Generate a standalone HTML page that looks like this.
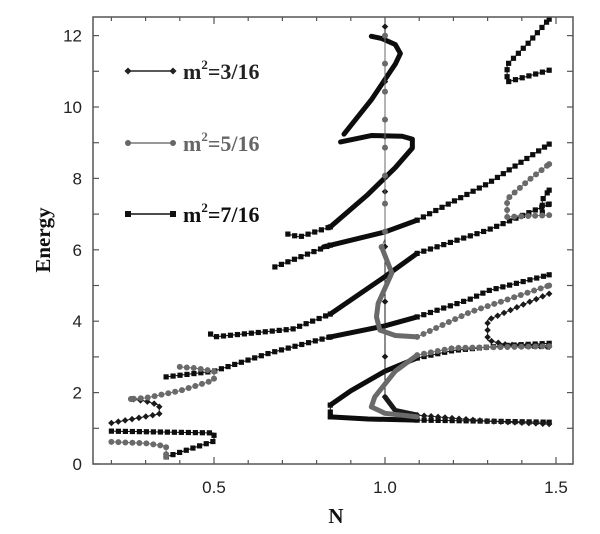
<!DOCTYPE html>
<html><head><meta charset="utf-8"><style>
html,body{margin:0;padding:0;background:#fff;}
svg{display:block;}
</style></head><body>
<svg id="chart" width="600" height="534" viewBox="0 0 600 534" xmlns="http://www.w3.org/2000/svg">
<g id="plot"></g>
<g id="axes"></g>
<g>
  <g>
    <line x1="128" y1="71" x2="173" y2="71" stroke="#222" stroke-width="1.5"/>
    <rect x="125.5" y="68.5" width="5" height="5" fill="#222" transform="rotate(45 128 71)"/>
    <rect x="170.5" y="68.5" width="5" height="5" fill="#222" transform="rotate(45 173 71)"/>
    <text x="183" y="79" font-family="Liberation Serif, serif" font-weight="bold" font-size="22" fill="#222">m<tspan dy="-10" font-size="13">2</tspan><tspan dy="10">=3/16</tspan></text>
  </g>
  <g>
    <line x1="128" y1="143" x2="173" y2="143" stroke="#777" stroke-width="1.5"/>
    <circle cx="128" cy="143" r="3" fill="#666"/>
    <circle cx="173" cy="143" r="3" fill="#666"/>
    <text x="183" y="151" font-family="Liberation Serif, serif" font-weight="bold" font-size="22" fill="#666">m<tspan dy="-10" font-size="13">2</tspan><tspan dy="10">=5/16</tspan></text>
  </g>
  <g>
    <line x1="128" y1="214" x2="173" y2="214" stroke="#111" stroke-width="1.5"/>
    <rect x="125" y="211" width="6" height="6" fill="#111"/>
    <rect x="170" y="211" width="6" height="6" fill="#111"/>
    <text x="183" y="222" font-family="Liberation Serif, serif" font-weight="bold" font-size="22" fill="#111">m<tspan dy="-10" font-size="13">2</tspan><tspan dy="10">=7/16</tspan></text>
  </g>
</g>
<text x="0" y="0" transform="translate(50 240) rotate(-90)" text-anchor="middle" font-family="Liberation Serif, serif" font-weight="bold" font-size="21" fill="#111">Energy</text>
<text x="336" y="523" text-anchor="middle" font-family="Liberation Serif, serif" font-weight="bold" font-size="21" fill="#111">N</text>
</svg>
<script>
// ---- data ----
const xTicks=[0.5,1.0,1.5];
const xTickLabels=["0.5","1.0","1.5"];
const yTicks=[0,2,4,6,8,10,12];
const yTickLabels=["0","2","4","6","8","10","12"];
// series: 0 = m2=3/16 (diamond), 1 = m2=5/16 (grey circle), 2 = m2=7/16 (square)
const curveSeries=[2,2,2,2,2,2,2,2,2,2,2,2,2,2,2,2,2,2,2,2,  0,0,0,0,0,  1,1,1,1,1,1,1,1];
const curveKind=["thin","thin","thick","thin","thin","thick","thin","thin","thick","thin","thin","thick","thick","thin","thin","thick","thin","thick","thin","thin",
 "thin","thin","thick","thin","thin",
 "thin","thin","thin","thick","thin","thick","thin","thin"];
const curvesN=[
 [0.2,0.5,0.5,0.36],
 [0.36,0.5,0.66,0.73,0.84],
 [0.84,1.0,1.094],
 [1.094,1.25,1.3,1.48],
 [0.49,0.5,0.73,0.84],
 [0.84,1.0,1.094],
 [1.094,1.3,1.48],
 [0.678,0.84],
 [0.82,1.0,1.094],
 [1.094,1.3,1.48],
 [0.716,0.75,0.84],
 [0.84,0.95,1.03,1.08,1.08,1.05,0.96,0.87],
 [0.88,0.96,1.03,1.045,1.03,0.99,0.96],
 [1.48,1.357,1.357,1.42,1.48],
 [1.48,1.35,1.2,1.094],
 [1.094,1.0,0.9,0.84],
 [0.84,0.84],
 [0.84,0.95,1.094],
 [1.094,1.3,1.48],
 [1.46,1.46,1.48],
 [0.2,0.34,0.34,0.30,0.26],
 [1.0,1.0],
 [1.0,1.03,1.094],
 [1.094,1.3,1.48],
 [1.48,1.4,1.30,1.30,1.35,1.48],
 [0.2,0.3,0.36,0.36],
 [0.40,0.45,0.5,0.5,0.4,0.3,0.257],
 [1.0,1.0,0.99],
 [0.99,1.02,0.98,0.975,0.985,1.03,1.094],
 [1.094,1.25,1.48],
 [1.094,1.03,0.97,0.96,1.0,1.094],
 [1.094,1.2,1.48],
 [1.48,1.357,1.357,1.42,1.48]
];
const curvesE=[
 [0.92,0.87,0.64,0.2],
 [2.44,2.6,3.1,3.28,3.56],
 [3.56,3.87,4.12],
 [4.12,4.62,4.85,5.3],
 [3.64,3.56,3.78,4.2],
 [4.2,5.25,5.9],
 [5.9,6.55,7.28],
 [5.52,6.13],
 [6.08,6.5,6.83],
 [6.83,7.85,8.96],
 [6.44,6.36,6.64],
 [6.64,7.55,8.3,8.85,9.1,9.18,9.2,9.02],
 [9.24,10.2,11.2,11.5,11.75,11.92,11.98],
 [11.03,10.7,11.18,11.8,12.46],
 [3.38,3.32,3.18,2.97],
 [2.97,2.6,2.05,1.65],
 [1.65,1.32],
 [1.32,1.26,1.23],
 [1.23,1.2,1.17],
 [7.05,7.4,7.67],
 [1.15,1.40,1.65,1.76,1.82],
 [12.25,1.88],
 [1.88,1.5,1.37],
 [1.37,1.2,1.12],
 [4.77,4.45,4.03,3.47,3.35,3.28],
 [0.62,0.58,0.5,0.2],
 [2.72,2.68,2.6,2.35,2.05,1.85,1.82],
 [12.0,6.3,6.08],
 [6.08,5.35,4.5,4.12,3.75,3.6,3.56],
 [3.56,4.26,5.0],
 [3.05,2.6,1.88,1.6,1.42,1.32],
 [3.05,3.25,3.3],
 [6.97,6.92,7.42,7.95,8.4]
];
// ---- scales ----
const L=93,R=573,T=17,B=464;
function xs(n){return 214+(n-0.5)*342;}
function ys(e){return 464-e*35.7;}
const NS="http://www.w3.org/2000/svg";
const plot=document.getElementById('plot');
const axes=document.getElementById('axes');
function mk(tag,attrs,parent){const el=document.createElementNS(NS,tag);for(const k in attrs)el.setAttribute(k,attrs[k]);parent.appendChild(el);return el;}
const colors=["#1a1a1a","#6a6a6a","#0d0d0d"];
const seriesNames=["m2-3-16","m2-5-16","m2-7-16"];
function marker(s,x,y,g){
  let el;
  if(s===0){el=mk('rect',{x:x-2.3,y:y-2.3,width:4.6,height:4.6,fill:colors[0],transform:`rotate(45 ${x} ${y})`},g);}
  else if(s===1){el=mk('circle',{cx:x,cy:y,r:3,fill:colors[1]},g);}
  else {el=mk('rect',{x:x-2.6,y:y-2.6,width:5.2,height:5.2,fill:colors[2]},g);}
  
  
}
curvesN.forEach((ns,i)=>{
  const es=curvesE[i];const s=curveSeries[i];const kind=curveKind[i];
  const g=mk('g',{},plot);
  
  
  const pts=ns.map((n,j)=>[xs(n),ys(es[j])]);
  const pl=mk('polyline',{points:pts.map(p=>p.join(',')).join(' '),fill:'none',stroke:colors[s],'stroke-width':kind==='thick'?5:1,'stroke-linejoin':'round','stroke-linecap':kind==='thick'?'round':'butt'},g);
  
  
  if(kind==='thin'){
    const gap=(i===21)?55:(i===27?28:7);
    let carry=0;
    marker(s,pts[0][0],pts[0][1],g);
    for(let j=1;j<pts.length;j++){
      const dx=pts[j][0]-pts[j-1][0],dy=pts[j][1]-pts[j-1][1];const len=Math.hypot(dx,dy);
      let t=gap-carry;
      while(t<=len){marker(s,pts[j-1][0]+dx*t/len,pts[j-1][1]+dy*t/len,g);t+=gap;}
      carry=len-(t-gap);
    }
    marker(s,pts[pts.length-1][0],pts[pts.length-1][1],g);
  }
});
// ---- axes ----
const frame=mk('rect',{x:L,y:T,width:R-L,height:B-T,fill:'none',stroke:'#555','stroke-width':1.5},axes);


for(let k=2;k<=15;k++){
  const n=k/10;const x=xs(n);if(x<L||x>R)continue;
  const major=(k%5===0);const len=major?7:4;
  const t1=mk('line',{x1:x,y1:B,x2:x,y2:B-len,stroke:'#555','stroke-width':1.2},axes);
  
  
  const t2=mk('line',{x1:x,y1:T,x2:x,y2:T+len,stroke:'#555','stroke-width':1.2},axes);
  
  
}
xTicks.forEach((v,i)=>{
  const t=mk('text',{x:xs(v),y:493,'text-anchor':'middle','font-family':'Liberation Sans, sans-serif','font-size':17,fill:'#222'},axes);
  t.textContent=xTickLabels[i];
  
  
});
for(let e=0;e<=12;e++){
  const y=ys(e);const len=6;
  const t1=mk('line',{x1:L,y1:y,x2:L+len,y2:y,stroke:'#555','stroke-width':1.2},axes);
  
  
  const t2=mk('line',{x1:R,y1:y,x2:R-len,y2:y,stroke:'#555','stroke-width':1.2},axes);
  
  
}
yTicks.forEach((v,i)=>{
  const t=mk('text',{x:82,y:ys(v)+6,'text-anchor':'end','font-family':'Liberation Sans, sans-serif','font-size':17,fill:'#222'},axes);
  t.textContent=yTickLabels[i];
  
  
});
</script>
</body></html>
